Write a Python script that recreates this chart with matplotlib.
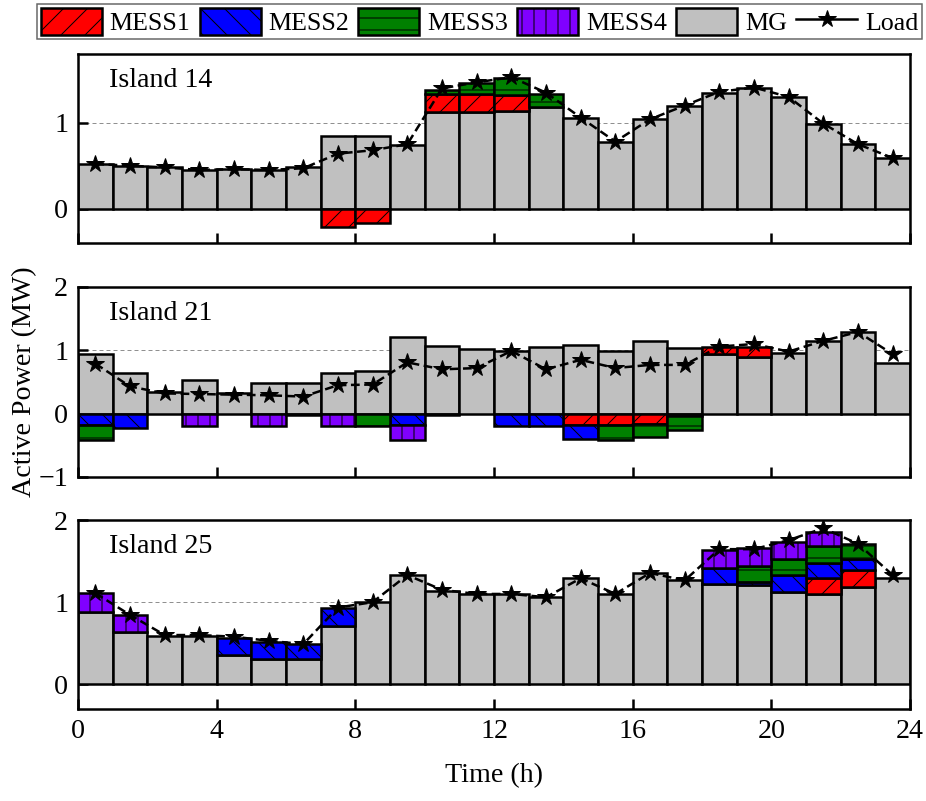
import numpy as np
import matplotlib
matplotlib.use("Agg")
import matplotlib.pyplot as plt
from matplotlib.patches import Patch
from matplotlib.lines import Line2D

plt.rcParams['font.family'] = ['Liberation Serif', 'DejaVu Serif']
plt.rcParams['hatch.color'] = 'black'
plt.rcParams['hatch.linewidth'] = 1.0

hours = np.arange(24)

# ---------------- Island 14 ----------------
mg14 = [0.52, 0.50, 0.48, 0.45, 0.46, 0.45, 0.48, 0.845, 0.845, 0.74, 1.12, 1.12,
        1.14, 1.18, 1.06, 0.78, 1.04, 1.20, 1.35, 1.41, 1.30, 0.99, 0.75, 0.59]
load14 = [0.52, 0.50, 0.48, 0.45, 0.46, 0.45, 0.47, 0.64, 0.68, 0.75, 1.40, 1.47,
          1.53, 1.35, 1.06, 0.78, 1.04, 1.20, 1.36, 1.41, 1.30, 0.99, 0.75, 0.59]
mess1_14 = [0, 0, 0, 0, 0, 0, 0, -0.21, -0.17, 0, 0.21, 0.21,
            0.18, 0, 0, 0, 0, 0, 0, 0, 0, 0, 0, 0]
mess2_14 = [0] * 24
mess3_14 = [0, 0, 0, 0, 0, 0, 0, 0, 0, 0, 0.05, 0.135,
            0.195, 0.16, 0, 0, 0, 0, 0, 0, 0, 0, 0, 0]
mess4_14 = [0] * 24

# ---------------- Island 21 ----------------
mg21 = [0.94, 0.65, 0.35, 0.53, 0.32, 0.49, 0.49, 0.65, 0.67, 1.21, 1.07, 1.02,
        0.995, 1.05, 1.09, 0.99, 1.15, 1.03, 0.94, 0.89, 0.96, 1.15, 1.29, 0.80]
load21 = [0.79, 0.43, 0.32, 0.31, 0.30, 0.29, 0.27, 0.45, 0.46, 0.81, 0.70, 0.72,
          0.99, 0.70, 0.85, 0.72, 0.77, 0.77, 1.06, 1.10, 0.98, 1.15, 1.29, 0.94]
mess1_21 = [0, 0, 0, 0, 0, 0, 0, 0, 0, 0, -0.02, 0,
            0, 0, -0.18, -0.18, -0.17, -0.04, 0.11, 0.17, 0, 0, 0, 0]
mess2_21 = [-0.18, -0.22, 0, 0, 0, 0, 0, 0, 0, -0.18, 0, 0,
            -0.20, -0.20, -0.22, 0, 0, 0, 0, 0, 0, 0, 0, 0]
mess3_21 = [-0.23, 0, 0, 0, 0, 0, 0, 0, -0.19, 0, 0, 0,
            0, 0, 0, -0.23, -0.20, -0.22, 0, 0, 0, 0, 0, 0]
mess4_21 = [0, 0, 0, -0.20, 0, -0.20, -0.02, -0.20, 0, -0.23, 0, 0,
            0, 0, 0, 0, 0, 0, 0, 0, 0, 0, 0, 0]

# ---------------- Island 25 ----------------
mg25 = [0.886, 0.64, 0.59, 0.59, 0.36, 0.31, 0.31, 0.71, 1.00, 1.33, 1.14, 1.10,
        1.10, 1.06, 1.29, 1.10, 1.355, 1.265, 1.22, 1.21, 1.12, 1.10, 1.18, 1.29]
load25 = [1.11, 0.845, 0.60, 0.60, 0.58, 0.53, 0.49, 0.935, 1.00, 1.33, 1.15, 1.10,
          1.10, 1.06, 1.29, 1.10, 1.355, 1.265, 1.645, 1.645, 1.755, 1.90, 1.71, 1.33]
mess1_25 = [0] * 21 + [0.20, 0.21, 0]
mess2_25 = [0, 0, 0, 0, 0.20, 0.21, 0.18, 0.22, 0, 0, 0, 0,
            0, 0, 0, 0, 0, 0, 0.20, 0.03, 0.21, 0.18, 0.13, 0]
mess3_25 = [0] * 19 + [0.20, 0.19, 0.20, 0.19, 0]
mess4_25 = [0.22, 0.20, 0, 0, 0, 0, 0, 0, 0, 0, 0, 0,
            0, 0, 0, 0, 0, 0, 0.21, 0.22, 0.21, 0.18, 0, 0]

islands = [
    ("Island 14", mg14, load14, [mess1_14, mess2_14, mess3_14, mess4_14], (-0.4, 1.8), [0, 1]),
    ("Island 21", mg21, load21, [mess1_21, mess2_21, mess3_21, mess4_21], (-1, 2), [-1, 0, 1, 2]),
    ("Island 25", mg25, load25, [mess1_25, mess2_25, mess3_25, mess4_25], (-0.3, 2), [0, 1, 2]),
]

mess_names = ["MESS1", "MESS2", "MESS3", "MESS4"]
mess_colors = ["#ff0000", "#0000ff", "#008000", "#8000ff"]
mess_hatch = ["/", "\\", "-", "|"]
mg_color = "#c0c0c0"

W, H = 926, 801
fig = plt.figure(figsize=(W / 72, H / 72), dpi=72)

left = 78 / W
width = (910 - 78) / W
panel_px = [(54, 243), (287, 477), (520, 709)]

FS = 28
edge_lw = 2.5

axes = []
for i, (name, mg, load, messes, ylim, yt) in enumerate(islands):
    top, bot = panel_px[i]
    ax = fig.add_axes([left, 1 - bot / H, width, (bot - top) / H])
    axes.append(ax)
    mg = np.array(mg, dtype=float)
    ax.axhline(1, color='#909090', lw=1.0, ls=(0, (4, 3)), zorder=0)
    ax.bar(hours, mg, width=1.0, align='edge', color=mg_color, edgecolor='black',
           linewidth=edge_lw, zorder=2)
    pos_bottom = mg.copy()
    neg_bottom = np.zeros(24)
    for m, col, hat in zip(messes, mess_colors, mess_hatch):
        v = np.array(m, dtype=float)
        pos = np.clip(v, 0, None)
        neg = np.clip(v, None, 0)
        mp = pos > 0
        if mp.any():
            ax.bar(hours[mp], pos[mp], bottom=pos_bottom[mp], width=1.0, align='edge',
                   color=col, edgecolor='black', linewidth=edge_lw, hatch=hat, zorder=2)
        mn = neg < 0
        if mn.any():
            ax.bar(hours[mn], neg[mn], bottom=neg_bottom[mn], width=1.0, align='edge',
                   color=col, edgecolor='black', linewidth=edge_lw, hatch=hat, zorder=2)
        pos_bottom += pos
        neg_bottom += neg
    ax.plot(hours + 0.5, load, color='black', lw=2.5, ls=(0, (3.5, 1.8)),
            marker='*', markersize=18, markerfacecolor='black',
            markeredgecolor='black', zorder=4)
    ax.set_xlim(0, 24)
    ax.set_ylim(*ylim)
    ax.set_yticks(yt)
    ax.set_xticks(np.arange(0, 25, 4))
    ax.tick_params(direction='in', length=10, width=2.5, labelsize=FS, pad=10,
                   top=False, right=False)
    for s in ax.spines.values():
        s.set_linewidth(2.5)
    if i < 2:
        ax.tick_params(axis='x', labelbottom=False)
    ax.text(0.037, 0.827, name, transform=ax.transAxes, fontsize=FS,
            ha='left', va='baseline', zorder=5)

fig.text(25 / W, 1 - 382 / H, "Active Power (MW)", rotation=90, fontsize=FS,
         ha='center', va='center')
fig.text((78 + 910) / 2 / W, 1 - 776 / H, "Time (h)", fontsize=FS,
         ha='center', va='center')

handles = [Patch(facecolor=c, edgecolor='black', hatch=h, linewidth=2.5)
           for c, h in zip(mess_colors, mess_hatch)]
handles.append(Patch(facecolor=mg_color, edgecolor='black', linewidth=2.5))
handles.append(Line2D([0], [0], color='black', lw=2.5, marker='*', markersize=18))
labels = mess_names + ["MG", "Load"]
leg = fig.legend(handles, labels, loc='upper center', bbox_to_anchor=(479.5 / W, 1 - 4 / H),
                 ncol=6, fontsize=26, frameon=True, fancybox=False,
                 handlelength=2.35, handleheight=1.2, handletextpad=0.3,
                 columnspacing=0.35, borderpad=0.15, borderaxespad=0.0)
leg.get_frame().set_edgecolor('#404040')
leg.get_frame().set_linewidth(1.5)

fig.savefig("out.png", dpi=72)
